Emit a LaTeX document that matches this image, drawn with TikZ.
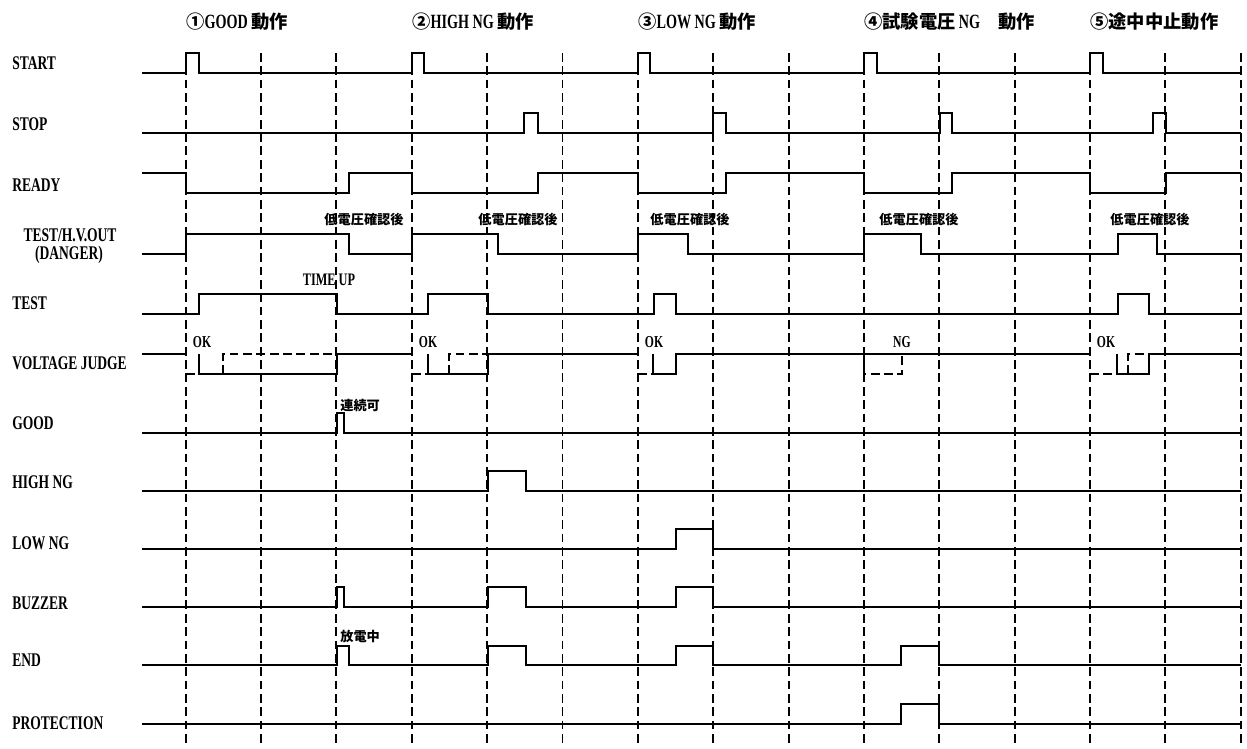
\documentclass[tikz,border=0pt]{standalone}
\usepackage{fontspec}
\setmainfont{Liberation Serif}[FakeStretch=0.7]
\newfontfamily\jp{Noto Sans CJK JP}
\usepackage{tikz}

\begin{document}
\begin{tikzpicture}[
    x=0.02cm, y=-0.02cm,
    sig/.style={line width=1.3pt, line join=miter},
    alt/.style={line width=1.3pt, dash pattern=on 5pt off 2.6pt},
    guide/.style={line width=1.1pt, dash pattern=on 5pt off 2.6pt},
    lbl/.style={anchor=west, inner sep=0pt, font=\fontsize{11}{12}\selectfont\bfseries},
    hdr/.style={anchor=west, inner sep=0pt, font=\fontsize{10.4}{12}\selectfont\bfseries},
    note/.style={inner sep=0pt, font=\fontsize{7.5}{9}\selectfont\jp\bfseries},
    tag/.style={inner sep=0pt, font=\fontsize{9.5}{10}\selectfont\bfseries}
]
\useasboundingbox (0,0) rectangle (1247,749);

% time grid
\foreach \k in {0,...,14}
  \draw[guide] ({185.7+75.36*\k},53) -- ({185.7+75.36*\k},745);

% headers
\node[hdr] (h1) at (186,22) {{\jp ①}{\fontsize{11.5}{12}\selectfont GOOD} {\jp 動作}};
\node[hdr] (h2) at (412,22) {{\jp ②}{\fontsize{11.5}{12}\selectfont HIGH NG} {\jp 動作}};
\node[hdr] (h3) at (638,22) {{\jp ③}{\fontsize{11.5}{12}\selectfont LOW NG} {\jp 動作}};
\node[hdr] (h4) at (864,22) {{\jp ④試験電圧} {\fontsize{11.5}{12}\selectfont NG}{\jp 　動作}};
\node[hdr] (h5) at (1090,22) {{\jp ⑤途中中止動作}};

% signal names
\node[lbl] (start) at (12,63) {START};
\node[lbl] (stop) at (12,124) {STOP};
\node[lbl] (ready) at (12,185) {READY};
\node[lbl, anchor=center, text height=7.3pt, text depth=1pt] (hvout) at (70,236) {TEST/H.V.OUT};
\node[lbl, anchor=center, text height=7.3pt, text depth=1pt] (danger) at (69,254) {(DANGER)};
\node[lbl] (test) at (12,303) {TEST};
\node[lbl] (vjudge) at (12,363) {VOLTAGE JUDGE};
\node[lbl] (good) at (12,423) {GOOD};
\node[lbl] (highng) at (12,482) {HIGH NG};
\node[lbl] (lowng) at (12,543) {LOW NG};
\node[lbl] (buzzer) at (12,603) {BUZZER};
\node[lbl] (endsig) at (12,660) {END};
\node[lbl] (protect) at (12,723) {PROTECTION};

% waveforms
\draw[sig] (142,73) -- (186,73) -- (186,53) -- (199,53) -- (199,73) -- (412,73) -- (412,53) -- (424,53) -- (424,73)
  -- (638,73) -- (638,53) -- (650,53) -- (650,73) -- (864,73) -- (864,53) -- (877,53) -- (877,73)
  -- (1090,73) -- (1090,53) -- (1103,53) -- (1103,73) -- (1241,73);
\draw[sig] (142,133) -- (524,133) -- (524,113) -- (538,113) -- (538,133) -- (713,133) -- (713,113) -- (726,113) -- (726,133)
  -- (940,133) -- (940,113) -- (952,113) -- (952,133) -- (1153,133) -- (1153,113) -- (1166,113) -- (1166,133) -- (1241,133);
\draw[sig] (142,173) -- (186,173) -- (186,193) -- (349,193) -- (349,173) -- (412,173) -- (412,193) -- (538,193) -- (538,173)
  -- (638,173) -- (638,193) -- (726,193) -- (726,173) -- (864,173) -- (864,193) -- (952,193) -- (952,173)
  -- (1090,173) -- (1090,193) -- (1166,193) -- (1166,173) -- (1241,173);
\draw[sig] (142,254) -- (186,254) -- (186,234) -- (349,234) -- (349,254) -- (412,254) -- (412,234) -- (498,234) -- (498,254)
  -- (638,254) -- (638,234) -- (688,234) -- (688,254) -- (864,254) -- (864,234) -- (921,234) -- (921,254)
  -- (1118,254) -- (1118,234) -- (1157,234) -- (1157,254) -- (1241,254);
\draw[sig] (142,314) -- (199,314) -- (199,294) -- (337,294) -- (337,314) -- (428,314) -- (428,294) -- (488,294) -- (488,314)
  -- (654,314) -- (654,294) -- (676,294) -- (676,314) -- (1118,314) -- (1118,294) -- (1149,294) -- (1149,314) -- (1241,314);
\draw[sig] (142,354) -- (186,354);
\draw[sig] (199,354) -- (199,374) -- (337,374) -- (337,354) -- (412,354);
\draw[sig] (428,354) -- (428,374) -- (488,374) -- (488,354) -- (638,354);
\draw[sig] (653,354) -- (653,374) -- (676,374) -- (676,354) -- (1090,354);
\draw[sig] (1117,354) -- (1117,374) -- (1149,374) -- (1149,354) -- (1241,354);
\draw[alt] (186,374) -- (199,374);
\draw[alt] (223,374) -- (223,354) -- (337,354);
\draw[alt] (412,374) -- (428,374);
\draw[alt] (449,374) -- (449,354) -- (488,354);
\draw[alt] (638,374) -- (653,374);
\draw[alt] (864,354) -- (864,374) -- (902,374) -- (902,354);
\draw[alt] (1090,374) -- (1117,374);
\draw[alt] (1128,374) -- (1128,354) -- (1149,354);
\draw[sig] (142,433) -- (337,433) -- (337,413) -- (344,413) -- (344,433) -- (1241,433);
\draw[sig] (142,491) -- (488,491) -- (488,471) -- (526,471) -- (526,491) -- (1241,491);
\draw[sig] (142,549) -- (676,549) -- (676,529) -- (713,529) -- (713,549) -- (1241,549);
\draw[sig] (142,607) -- (337,607) -- (337,587) -- (344,587) -- (344,607) -- (488,607) -- (488,587) -- (526,587) -- (526,607)
  -- (676,607) -- (676,587) -- (713,587) -- (713,607) -- (1241,607);
\draw[sig] (142,665) -- (337,665) -- (337,646) -- (349,646) -- (349,665) -- (488,665) -- (488,646) -- (526,646) -- (526,665)
  -- (676,665) -- (676,646) -- (713,646) -- (713,665) -- (901,665) -- (901,646) -- (939,646) -- (939,665) -- (1241,665);
\draw[sig] (142,724) -- (901,724) -- (901,704) -- (939,704) -- (939,724) -- (1241,724);

% notes
\node[note] (lv1) at (364,219) {低電圧確認後};
\node[note] (lv2) at (518,219) {低電圧確認後};
\node[note] (lv3) at (690,219) {低電圧確認後};
\node[note] (lv4) at (919,219) {低電圧確認後};
\node[note] (lv5) at (1150,219) {低電圧確認後};
\node[tag, font=\fontsize{10}{10}\selectfont\bfseries] (timeup) at (329,280) {TIME UP};
\node[tag] (ok1) at (202,342) {OK};
\node[tag] (ok2) at (428,342) {OK};
\node[tag] (ok3) at (654,342) {OK};
\node[tag] (ng4) at (902,342) {NG};
\node[tag] (ok5) at (1106,342) {OK};
\node[note, anchor=west] (cont) at (340,405) {連続可};
\node[note, anchor=west] (dischg) at (340,637) {放電中};

\end{tikzpicture}
\end{document}
